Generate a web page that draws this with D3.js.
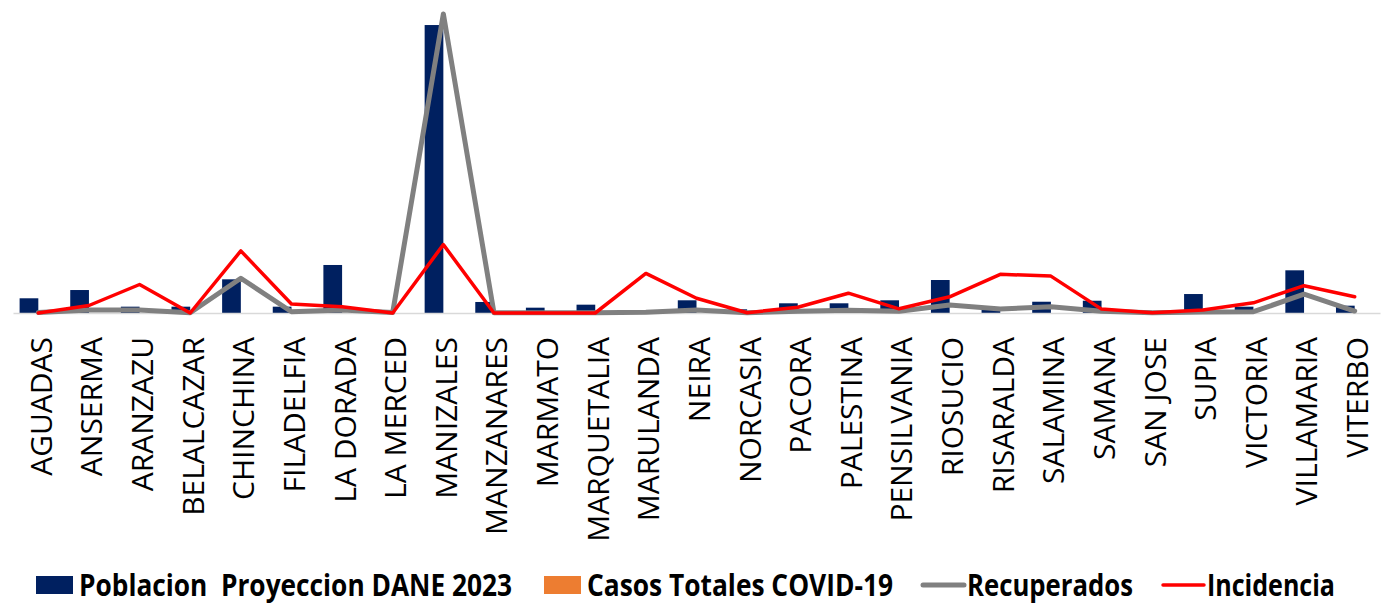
<!DOCTYPE html>
<html>
<head>
<meta charset="utf-8">
<script src="https://cdn.jsdelivr.net/npm/d3@7"></script>
<style>
  html, body { margin: 0; padding: 0; background: #ffffff; }
  svg { display: block; }
  text { font-family: "Open Sans", "Noto Sans", sans-serif; }
</style>
</head>
<body>
<svg id="chart" width="1388" height="613"></svg>
<script>
// Municipios de Caldas
const municipios = ["AGUADAS","ANSERMA","ARANZAZU","BELALCAZAR","CHINCHINA","FILADELFIA",
  "LA DORADA","LA MERCED","MANIZALES","MANZANARES","MARMATO","MARQUETALIA","MARULANDA",
  "NEIRA","NORCASIA","PACORA","PALESTINA","PENSILVANIA","RIOSUCIO","RISARALDA","SALAMINA",
  "SAMANA","SAN JOSE","SUPIA","VICTORIA","VILLAMARIA","VITERBO"];

// Poblacion proyeccion DANE 2023 (habitantes)
const poblacion = [23500, 36700, 10100, 10100, 53800, 10100, 76700, 4800, 460000, 17600,
  8500, 13300, 3200, 20300, 5900, 15500, 15500, 20300, 52700, 6500, 18000,
  19600, 3500, 30300, 10100, 68200, 11700];

// Casos totales COVID-19 (sin barra visible en esta escala)
const casosTotales = [0, 0, 0, 0, 0, 0, 0, 0, 0, 0, 0, 0, 0, 0, 0, 0, 0, 0, 0, 0, 0, 0, 0, 0, 0, 0, 0];

// Recuperados
const recuperados = [200, 1050, 1050, 100, 12200, 450, 1050, 180, 105100, 50, 50, 50, 300,
  1050, 100, 600, 1000, 600, 2800, 1400, 2200, 600, 100, 350, 450, 6600, 700];

// Incidencia
const incidencia = [0, 0.25, 0.95, 0, 2.07, 0.30, 0.21, 0, 2.28, 0, 0, 0, 1.32, 0.49, 0.01,
  0.19, 0.66, 0.14, 0.54, 1.29, 1.23, 0.13, 0.01, 0.10, 0.34, 0.91, 0.54];

const series = ["Poblacion  Proyeccion DANE 2023", "Casos Totales COVID-19", "Recuperados", "Incidencia"];
const colores = { pob: "#002060", casos: "#ed7d31", rec: "#808080", inc: "#ff0000" };

const svg = d3.select("#chart");
const baseY = 313, left = 13, right = 1380;

const x = d3.scaleBand().domain(municipios).range([left, right]).paddingInner(0.261).paddingOuter(0.1305);
const xSub = d3.scaleBand().domain(["pob", "casos"]).range([0, x.bandwidth()]);
const cx = d => x(d) + x.bandwidth() / 2;

const yPob = d3.scaleLinear().domain([0, 500000]).range([baseY, 0]);
const yCasos = d3.scaleLinear().domain([0, 500000]).range([baseY, 0]);
const yRec = d3.scaleLinear().domain([0, 110000]).range([baseY, 0]);
const yInc = d3.scaleLinear().domain([0, 10]).range([baseY, 13]);

// Barras: poblacion y casos
const grupos = svg.append("g").selectAll("g").data(municipios).join("g")
  .attr("transform", d => `translate(${x(d)},0)`);
grupos.append("rect")
  .attr("x", xSub("pob")).attr("width", xSub.bandwidth())
  .attr("y", (d, i) => yPob(poblacion[i]))
  .attr("height", (d, i) => baseY - yPob(poblacion[i]))
  .attr("fill", colores.pob);
grupos.append("rect")
  .attr("x", xSub("casos")).attr("width", xSub.bandwidth())
  .attr("y", (d, i) => yCasos(casosTotales[i]))
  .attr("height", (d, i) => baseY - yCasos(casosTotales[i]))
  .attr("fill", colores.casos);

// Eje de categorias
const xAxis = d3.axisBottom(x).tickSize(0).tickFormat("");
const ejeG = svg.append("g").attr("transform", `translate(0,${baseY})`).call(xAxis);
ejeG.select(".domain").attr("stroke", "#d9d9d9").attr("stroke-width", 1.3);

// Etiquetas verticales
svg.append("g").selectAll("text").data(municipios).join("text")
  .attr("transform", d => `translate(${cx(d) + 2.7},337) rotate(-90)`)
  .attr("text-anchor", "end")
  .attr("dy", "0.357em")
  .attr("font-size", 30)
  .attr("fill", "#000")
  .text(d => d);

// Lineas
const linea = (esc, vals) => d3.line()
  .x(d => cx(d))
  .y((d, i) => esc(vals[i]));

svg.append("path").datum(municipios)
  .attr("d", linea(yRec, recuperados))
  .attr("fill", "none").attr("stroke", colores.rec).attr("stroke-width", 5)
  .attr("stroke-linejoin", "round").attr("stroke-linecap", "round");

svg.append("path").datum(municipios)
  .attr("d", linea(yInc, incidencia))
  .attr("fill", "none").attr("stroke", colores.inc).attr("stroke-width", 3.5)
  .attr("stroke-linejoin", "round").attr("stroke-linecap", "round");

// Leyenda
const leyenda = [
  { tipo: "rect", color: colores.pob, sx: 36, tx: 79, tw: 433 },
  { tipo: "rect", color: colores.casos, sx: 544, tx: 587, tw: 306 },
  { tipo: "line", color: colores.rec, sx: 923, tx: 967, tw: 166, sw: 5 },
  { tipo: "line", color: colores.inc, sx: 1163, tx: 1207, tw: 128, sw: 3.5 }
];
const ley = svg.append("g");
leyenda.forEach((l, i) => {
  if (l.tipo === "rect") {
    ley.append("rect").attr("x", l.sx).attr("y", 576).attr("width", 37).attr("height", 18).attr("fill", l.color);
  } else {
    ley.append("line").attr("x1", l.sx).attr("x2", l.sx + 41).attr("y1", 585).attr("y2", 585)
      .attr("stroke", l.color).attr("stroke-width", l.sw).attr("stroke-linecap", "round");
  }
  ley.append("text")
    .attr("x", l.tx).attr("y", 596)
    .attr("font-size", 30).attr("font-weight", "bold").attr("fill", "#000")
    .attr("textLength", l.tw).attr("lengthAdjust", "spacingAndGlyphs")
    .style("white-space", "pre")
    .text(series[i]);
});
</script>
</body>
</html>
